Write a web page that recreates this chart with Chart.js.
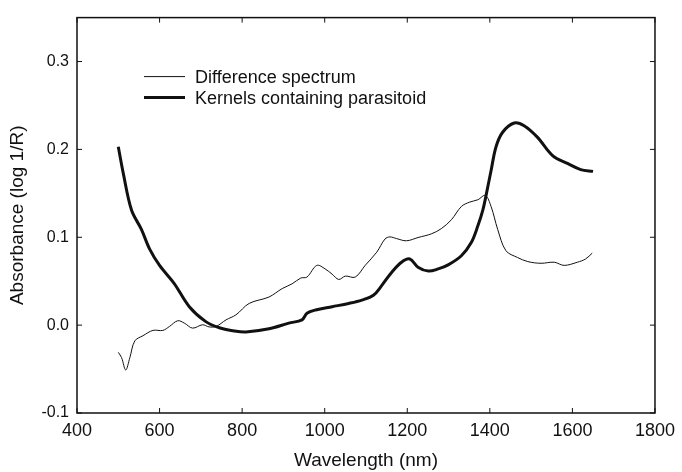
<!DOCTYPE html>
<html>
<head>
<meta charset="utf-8">
<script src="https://cdn.jsdelivr.net/npm/chart.js@4/dist/chart.umd.min.js"></script>
<style>
  html, body { margin: 0; padding: 0; background: #fff; }
  #wrap { width: 682px; height: 472px; }
</style>
</head>
<body>
<div id="wrap"><canvas id="spectrum"></canvas></div>
<script>
// wavelengths (nm) and absorbance
var diffWavelength = [500,508,518,528,540,560,584,608,624,644,660,680,704,720,737,761,785,817,865,897,921,942,957,981,1001,1018,1034,1050,1074,1098,1126,1146,1158,1174,1198,1226,1259,1283,1307,1331,1351,1371,1389,1403,1419,1439,1467,1492,1524,1556,1580,1612,1632,1648];
var diffAbs = [-0.031,-0.037,-0.051,-0.037,-0.018,-0.012,-0.006,-0.006,-0.0015,0.005,0.0023,-0.0034,0.0004,-0.002,-0.0015,0.006,0.0117,0.0247,0.032,0.0416,0.047,0.0536,0.0547,0.068,0.064,0.058,0.052,0.0558,0.0547,0.068,0.083,0.098,0.1004,0.0985,0.096,0.0997,0.104,0.11,0.12,0.135,0.14,0.1427,0.1476,0.135,0.109,0.0847,0.077,0.0723,0.0704,0.0716,0.068,0.0716,0.0753,0.082];

var kernWavelength = [500,512,532,556,576,600,636,672,712,745,777,809,865,913,945,957,978,1018,1058,1090,1118,1138,1162,1186,1206,1226,1251,1275,1299,1331,1355,1371,1383,1391,1403,1415,1431,1459,1483,1515,1552,1588,1620,1650];
var kernAbs = [0.203,0.173,0.131,0.109,0.0865,0.068,0.047,0.021,0.004,-0.003,-0.0063,-0.0078,-0.0042,0.0023,0.006,0.0135,0.0173,0.021,0.0247,0.0285,0.034,0.045,0.06,0.0716,0.0753,0.066,0.0615,0.064,0.0686,0.079,0.094,0.113,0.131,0.148,0.176,0.203,0.2195,0.23,0.227,0.214,0.193,0.184,0.177,0.175];

var xTicks = [400,600,800,1000,1200,1400,1600,1800];
var yTicks = [-0.1,0.0,0.1,0.2,0.3];

function pairs(xs, ys) {
    return xs.map(function (x, i) { return {x: x, y: ys[i]}; });
}

var ink = '#111';
var FONT = '"Liberation Sans", Arial, sans-serif';

// box round the plot, with ticks pointing inwards on every side, and the legend
var framePlugin = {
    id: 'frame',
    afterDraw: function (chart) {
        var ctx = chart.ctx, a = chart.chartArea;
        var xs = chart.scales.x, ys = chart.scales.y;
        var len = 5;
        ctx.save();
        ctx.strokeStyle = ink;
        ctx.lineWidth = 1.5;
        ctx.strokeRect(a.left, a.top, a.right - a.left, a.bottom - a.top);
        ctx.lineWidth = 1;
        ctx.beginPath();
        xTicks.forEach(function (v) {
            var px = xs.getPixelForValue(v);
            ctx.moveTo(px, a.bottom); ctx.lineTo(px, a.bottom - len);
            ctx.moveTo(px, a.top); ctx.lineTo(px, a.top + len);
        });
        yTicks.forEach(function (v) {
            var py = ys.getPixelForValue(v);
            ctx.moveTo(a.left, py); ctx.lineTo(a.left + len, py);
            ctx.moveTo(a.right, py); ctx.lineTo(a.right - len, py);
        });
        ctx.stroke();

        // legend
        var lx = a.left + 67, ly = a.top + 59;
        ctx.font = '18px ' + FONT;
        ctx.fillStyle = ink;
        ctx.textBaseline = 'middle';
        chart.data.datasets.forEach(function (ds, i) {
            var y = ly + i * 21;
            ctx.lineWidth = ds.borderWidth;
            ctx.beginPath();
            ctx.moveTo(lx, y); ctx.lineTo(lx + 41, y);
            ctx.stroke();
            ctx.fillText(ds.label, lx + 51, y + 1);
        });
        ctx.restore();
    }
};

var ctx = document.getElementById('spectrum').getContext('2d');
var chart = new Chart(ctx, {
    type: 'line',
    data: {
        datasets: [
            {
                label: 'Difference spectrum',
                data: pairs(diffWavelength, diffAbs),
                borderColor: ink,
                borderWidth: 1,
                pointRadius: 0,
                tension: 0.35,
                fill: false
            },
            {
                label: 'Kernels containing parasitoid',
                data: pairs(kernWavelength, kernAbs),
                borderColor: ink,
                borderWidth: 3,
                pointRadius: 0,
                tension: 0.35,
                fill: false
            }
        ]
    },
    options: {
        responsive: true,
        maintainAspectRatio: false,
        animation: false,
        layout: { padding: { top: 14, right: 24, left: 0, bottom: 0 } },
        plugins: {
            legend: { display: false },
            tooltip: { enabled: false }
        },
        scales: {
            x: {
                type: 'linear',
                min: 400,
                max: 1800,
                afterBuildTicks: function (s) { s.ticks = xTicks.map(function (v) { return {value: v}; }); },
                ticks: {
                    color: ink,
                    font: { family: FONT, size: 18 },
                    padding: 7,
                    maxRotation: 0,
                    callback: function (v) { return String(v); }
                },
                grid: { drawOnChartArea: false, drawTicks: false },
                border: { display: false },
                title: {
                    display: true,
                    text: 'Wavelength (nm)',
                    color: ink,
                    font: { family: FONT, size: 19 },
                    padding: { top: 0, bottom: 0 }
                },
                afterFit: function (s) { s.height = 59; }
            },
            y: {
                type: 'linear',
                min: -0.1,
                max: 0.35,
                afterBuildTicks: function (s) { s.ticks = yTicks.map(function (v) { return {value: v}; }); },
                ticks: {
                    color: ink,
                    font: { family: FONT, size: 16 },
                    padding: 8,
                    callback: function (v) { return Number(v).toFixed(1); }
                },
                grid: { drawOnChartArea: false, drawTicks: false },
                border: { display: false },
                title: {
                    display: true,
                    text: 'Absorbance (log 1/R)',
                    color: ink,
                    font: { family: FONT, size: 19 },
                    padding: { top: 6, bottom: 0 }
                },
                afterFit: function (s) { s.width = 77; }
            }
        }
    },
    plugins: [framePlugin]
});
</script>
</body>
</html>
